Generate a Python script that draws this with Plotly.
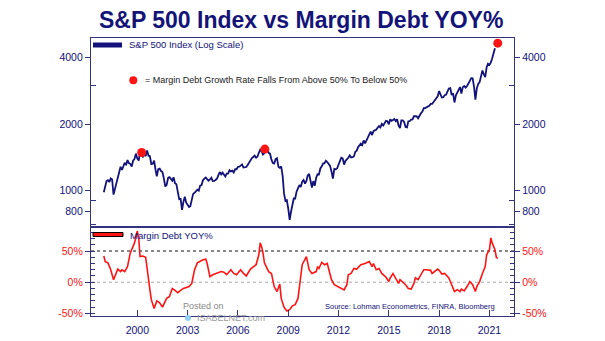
import plotly.graph_objects as go
import pandas as pd

# ---------------- data ----------------
sp_start = "1998-01-01"
sp500 = [
    980, 1049, 1102, 1112, 1091, 1134, 1121, 957, 1017, 1099, 1164, 1229,   # 1998
    1280, 1238, 1286, 1335, 1302, 1373, 1329, 1320, 1283, 1363, 1389, 1469,  # 1999
    1394, 1366, 1499, 1452, 1421, 1455, 1431, 1518, 1437, 1429, 1315, 1320,  # 2000
    1366, 1240, 1160, 1249, 1256, 1224, 1211, 1134, 1041, 1060, 1139, 1148,  # 2001
    1130, 1107, 1147, 1077, 1067, 990, 912, 916, 815, 886, 936, 880,         # 2002
    856, 841, 848, 917, 964, 975, 990, 1008, 996, 1051, 1058, 1112,          # 2003
    1131, 1145, 1126, 1107, 1121, 1141, 1102, 1104, 1115, 1130, 1174, 1212,  # 2004
    1181, 1204, 1181, 1157, 1192, 1191, 1234, 1220, 1229, 1207, 1249, 1248,  # 2005
    1280, 1281, 1295, 1311, 1270, 1270, 1277, 1304, 1336, 1378, 1401, 1418,  # 2006
    1438, 1407, 1421, 1482, 1531, 1503, 1455, 1474, 1527, 1549, 1481, 1468,  # 2007
    1379, 1331, 1323, 1386, 1400, 1280, 1267, 1283, 1165, 969, 896, 903,     # 2008
    826, 735, 798, 873, 919, 919, 987, 1021, 1057, 1036, 1096, 1115,         # 2009
    1074, 1104, 1169, 1187, 1089, 1031, 1102, 1049, 1141, 1183, 1181, 1258,  # 2010
    1286, 1327, 1326, 1364, 1345, 1321, 1292, 1219, 1131, 1253, 1247, 1258,  # 2011
    1312, 1366, 1408, 1398, 1310, 1362, 1379, 1407, 1441, 1412, 1416, 1426,  # 2012
    1498, 1515, 1569, 1598, 1631, 1606, 1686, 1633, 1682, 1757, 1806, 1848,  # 2013
    1783, 1859, 1872, 1884, 1924, 1960, 1931, 2003, 1972, 2018, 2068, 2059,  # 2014
    1995, 2105, 2068, 2086, 2107, 2063, 2104, 1972, 1920, 2079, 2080, 2044,  # 2015
    1940, 1932, 2060, 2065, 2097, 2099, 2174, 2171, 2168, 2126, 2199, 2239,  # 2016
    2279, 2364, 2363, 2384, 2412, 2423, 2470, 2472, 2519, 2575, 2648, 2674,  # 2017
    2824, 2714, 2641, 2648, 2705, 2718, 2816, 2902, 2914, 2712, 2760, 2507,  # 2018
    2704, 2784, 2834, 2946, 2752, 2942, 2980, 2926, 2977, 3038, 3141, 3231,  # 2019
    3226, 2954, 2585, 2912, 3044, 3100, 3271, 3500, 3363, 3270, 3622, 3756,  # 2020
    3714, 3811, 3973, 4181, 4420,                                            # 2021
]

margin_dates = [
    "1998-01", "1998-02", "1998-04", "1998-06", "1998-08", "1998-09", "1998-11",
    "1999-01", "1999-02", "1999-04", "1999-06", "1999-08", "1999-11",
    "2000-01", "2000-02", "2000-03", "2000-05", "2000-07", "2000-08", "2000-10", "2000-11",
    "2001-01", "2001-03", "2001-05", "2001-07", "2001-10", "2001-12",
    "2002-02", "2002-04", "2002-06", "2002-08", "2002-10",
    "2003-02", "2003-04", "2003-06", "2003-08", "2003-12",
    "2004-02", "2004-03", "2004-05", "2004-07", "2004-10",
    "2005-01", "2005-03", "2005-05", "2005-08", "2005-10", "2005-12",
    "2006-03", "2006-05", "2006-07", "2006-10", "2006-12",
    "2007-02", "2007-04", "2007-05", "2007-06", "2007-07", "2007-08", "2007-11",
    "2008-01", "2008-03", "2008-05", "2008-07", "2008-08", "2008-10", "2008-12",
    "2009-02", "2009-04", "2009-06", "2009-08", "2009-10", "2009-11",
    "2010-02", "2010-04", "2010-06", "2010-09", "2010-10", "2010-11",
    "2011-01", "2011-03", "2011-05", "2011-06", "2011-08", "2011-10",
    "2012-01", "2012-03", "2012-05", "2012-07", "2012-08", "2012-10", "2012-12",
    "2013-02", "2013-04", "2013-05", "2013-08", "2013-10", "2013-11",
    "2014-01", "2014-02", "2014-04", "2014-06", "2014-08", "2014-11",
    "2015-01", "2015-02", "2015-04", "2015-06", "2015-08", "2015-09", "2015-11",
    "2016-01", "2016-03", "2016-05", "2016-07", "2016-08", "2016-10", "2016-12",
    "2017-02", "2017-04", "2017-07", "2017-08", "2017-10", "2017-12",
    "2018-01", "2018-03", "2018-05", "2018-07", "2018-08", "2018-10", "2018-12",
    "2019-02", "2019-04", "2019-05", "2019-07", "2019-09", "2019-11",
    "2020-01", "2020-03", "2020-04", "2020-06", "2020-08", "2020-10", "2020-11",
    "2021-01", "2021-02", "2021-03", "2021-05", "2021-06", "2021-07",
]
margin_yoy = [
    42, 33, 31, 20, 4, 9, 21,
    17, 20, 17, 25, 47, 63,
    82, 70, 41, 42, 40, 20, -12, -28,
    -42, -30, -33, -40, -26, -23,
    -10, -13, -17, -13, -10,
    -7, -2, 20, 31, 36,
    37, 30, 9, 12, 14.5,
    17, 16, 12, 20, 14, 12,
    20, 14, 10, 21, 25,
    28, 44, 63, 57, 47, 31, 17,
    14, -7, -15, -3, -26, -40, -46,
    -44, -38, -36, -26, 5, 28,
    41, 20, 14, 17, 25, 22,
    32, 28, 30, 20, 4, -4,
    -8, -10, -12.5, -4, 12, 14, 22,
    21, 25, 28, 30, 32, 33,
    25, 30, 20, 22, 14, 8,
    1, 7, 14, 7, -2, 4, 0,
    -4, -10, -11, -2, 7, 4, 12,
    20, 20, 19, 14, 17, 21,
    19, 13, 14, 9, 7, -4, -15,
    -12, -15, -11, -14, -7, 1,
    -4, -15, -7, 1, 14, 25, 44,
    52, 71, 63, 52, 40, 38,
]

dot_dates = ["2000-04-05", "2007-08-10", "2021-07-01"]
dot_values = [1486, 1540, 4660]

year_ticks = [2000, 2003, 2006, 2009, 2012, 2015, 2018, 2021]
top_ticks = [800, 1000, 2000, 4000]
top_minor = [600, 700, 900, 3000, 5000]
bottom_ticks = [-50, 0, 50]
bottom_labels = ["-50%", "0%", "50%"]
ref_levels = [50, 0]

# ---------------- style ----------------
NAVY = "#12127a"
FRAME = "#34347e"
RED = "#ff1414"
FONT = "Liberation Sans, Arial, sans-serif"
W, H = 605, 341
ML, MR, MT, MB = 91, 91, 38, 25
PW, PH = W - ML - MR, H - MT - MB
SPLIT = (H - MB - 227.3) / PH


def px(x):
    return (x - ML) / PW


def py(y):
    return (H - MB - y) / PH


sp_dates = pd.date_range(sp_start, periods=len(sp500), freq="MS")
m_dates = pd.to_datetime(margin_dates)

fig = go.Figure()
fig.add_trace(go.Scatter(x=sp_dates, y=sp500, xaxis="x2", yaxis="y", mode="lines",
                         line=dict(color=NAVY, width=1.8), hoverinfo="skip"))
fig.add_trace(go.Scatter(x=sp_dates, y=sp500, xaxis="x2", yaxis="y3", mode="lines",
                         line=dict(color=NAVY, width=1), opacity=0, hoverinfo="skip"))
fig.add_trace(go.Scatter(x=pd.to_datetime(dot_dates), y=dot_values, xaxis="x2", yaxis="y",
                         mode="markers", marker=dict(color=RED, size=9), hoverinfo="skip"))
fig.add_trace(go.Scatter(x=m_dates, y=margin_yoy, xaxis="x", yaxis="y2", mode="lines",
                         line=dict(color=RED, width=1.6), hoverinfo="skip"))
fig.add_trace(go.Scatter(x=m_dates, y=margin_yoy, xaxis="x", yaxis="y4", mode="lines",
                         line=dict(color=RED, width=1), opacity=0, hoverinfo="skip"))

xr = ["1997-03-28", "2022-06-20"]
top_range = [2.8325, 3.6918]
bot_range = [-54.2, 88]

ytop = dict(type="log", range=top_range, tickvals=top_ticks,
            ticktext=[str(v) for v in top_ticks], ticks="outside", ticklen=5,
            tickcolor=FRAME, showline=True, linecolor=FRAME, linewidth=1.2,
            showgrid=False, zeroline=False, automargin=False,
            tickfont=dict(size=10.5, color=NAVY, family=FONT),
            minor=dict(tickmode="array", tickvals=top_minor, ticks="inside", ticklen=5,
                       tickcolor=FRAME, showgrid=False))
ybot = dict(range=bot_range, tickvals=bottom_ticks, ticktext=bottom_labels,
            ticks="outside", ticklen=5, tickcolor=FRAME, showline=True, linecolor=FRAME,
            linewidth=1.2, showgrid=False, zeroline=False, automargin=False,
            tickfont=dict(size=10.5, color=RED, family=FONT),
            minor=dict(dtick=10, tick0=0, ticks="inside", ticklen=4, tickcolor=FRAME,
                       showgrid=False))

fig.update_layout(
    width=W, height=H, margin=dict(l=ML, r=MR, t=MT, b=MB, pad=0, autoexpand=False),
    paper_bgcolor="white", plot_bgcolor="white", showlegend=False,
    font=dict(family=FONT),
    xaxis=dict(domain=[0, 1], anchor="y2", type="date", range=xr,
               tickvals=[f"{y}-01-01" for y in year_ticks],
               ticktext=[str(y) for y in year_ticks],
               ticks="inside", ticklen=6, tickcolor=FRAME, showline=True,
               linecolor=FRAME, linewidth=1.2, mirror=True, showgrid=False,
               zeroline=False, ticklabelstandoff=4, automargin=False,
               tickfont=dict(size=10.5, color=NAVY, family=FONT)),
    xaxis2=dict(domain=[0, 1], anchor="y", type="date", matches="x",
                showticklabels=False, ticks="", showline=True, linecolor=FRAME,
                linewidth=1.2, mirror=True, showgrid=False, zeroline=False,
                automargin=False),
    yaxis=dict(domain=[SPLIT, 1], anchor="x2", **ytop),
    yaxis3=dict(overlaying="y", side="right", anchor="x2", **ytop),
    yaxis2=dict(domain=[0, SPLIT], anchor="x", **ybot),
    yaxis4=dict(overlaying="y2", side="right", anchor="x", **ybot),
)

# reference levels
ref_colors = {50: "#111111", 0: "#a8a8a8"}
for lvl in ref_levels:
    fig.add_shape(type="line", xref="paper", x0=0, x1=1, yref="y2", y0=lvl, y1=lvl,
                  line=dict(color=ref_colors[lvl], width=1, dash="dot"), layer="below")

# legend-like keys
fig.add_shape(type="line", xref="paper", yref="paper", x0=px(93), x1=px(122),
              y0=py(45), y1=py(45), line=dict(color=NAVY, width=5))
fig.add_shape(type="rect", xref="paper", yref="paper", x0=px(93), x1=px(123),
              y0=py(236.5), y1=py(232.5), fillcolor=RED, line=dict(color="black", width=1))
fig.add_shape(type="circle", xref="paper", yref="paper", xsizemode="pixel", ysizemode="pixel",
              xanchor=px(133.3), yanchor=py(80.3), x0=-4, x1=4, y0=-4, y1=4,
              fillcolor=RED, line=dict(color=RED, width=0))
# watermark icon
fig.add_shape(type="circle", xref="paper", yref="paper", xsizemode="pixel", ysizemode="pixel",
              xanchor=px(188), yanchor=py(318), x0=-3, x1=3, y0=-3, y1=3,
              fillcolor="#8fd0f0", line=dict(color="#8fd0f0", width=0))

ann = [
    dict(text="<b>S&amp;P 500 Index vs Margin Debt YOY%</b>", x=px(300.5), y=py(20),
         xanchor="center", yanchor="middle", font=dict(size=23, color="#141478")),
    dict(text="S&amp;P 500 Index (Log Scale)", x=px(127), y=py(45), xanchor="left",
         yanchor="middle", font=dict(size=9.5, color=NAVY)),
    dict(text="Margin Debt YOY%", x=px(127.5), y=py(235), xanchor="left",
         yanchor="middle", font=dict(size=9.5, color=NAVY)),
    dict(text="= Margin Debt Growth Rate Falls From Above 50% To Below 50%", x=px(143),
         y=py(80.3), xanchor="left", yanchor="middle", font=dict(size=9, color="#222222")),
    dict(text="Source: Lohman Econometrics, FINRA, Bloomberg", x=px(497), y=py(306),
         xanchor="right", yanchor="middle", font=dict(size=7.5, color=NAVY)),
    dict(text="Posted on", x=px(203), y=py(306), xanchor="center", yanchor="middle",
         font=dict(size=9, color="#8a8a8a")),
    dict(text="ISABELNET.com", x=px(231), y=py(318), xanchor="center", yanchor="middle",
         font=dict(size=9, color="#9a9a9a")),
]
for a in ann:
    a.update(xref="paper", yref="paper", showarrow=False)
    a["font"].setdefault("family", FONT)
    fig.add_annotation(**a)

fig.write_html("out.html")
